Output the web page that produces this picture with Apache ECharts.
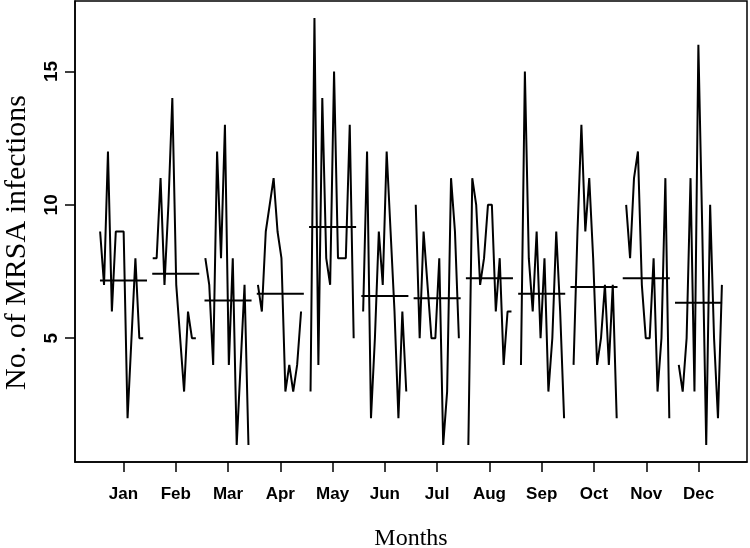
<!DOCTYPE html>
<html>
<head>
<meta charset="utf-8">
<script src="https://cdn.jsdelivr.net/npm/echarts@6/dist/echarts.min.js"></script>
<style>
  html, body { margin: 0; padding: 0; background: #fff; }
  #chart { width: 750px; height: 548px; }
</style>
</head>
<body>
<div id="chart"></div>
<script>
  // month labels and tick values
  var monthNames = ['Jan', 'Feb', 'Mar', 'Apr', 'May', 'Jun', 'Jul', 'Aug', 'Sep', 'Oct', 'Nov', 'Dec'];
  var monthTicks = [1, 2, 3, 4, 5, 6, 7, 8, 9, 10, 11, 12];
  var yTicks = [5, 10, 15];

  // infections per year, one array per month
  var jan = [9, 7, 12, 6, 9, 9, 9, 2, 5, 8, 5, 5];
  var feb = [8, 8, 11, 7, 10, 14, 7, 5, 3, 6, 5, 5];
  var mar = [8, 7, 4, 12, 8, 13, 4, 8, 1, 4, 7, 1];
  var apr = [7, 6, 9, 10, 11, 9, 8, 3, 4, 3, 4, 6];
  var may = [3, 17, 4, 14, 8, 7, 15, 8, 8, 8, 13, 5];
  var jun = [6, 12, 2, 5, 9, 7, 12, 9, 6, 2, 6, 3];
  var jul = [10, 5, 9, 7, 5, 5, 8, 1, 3, 11, 9, 5];
  var aug = [1, 11, 10, 7, 8, 10, 10, 6, 8, 4, 6, 6];
  var sep = [4, 15, 8, 6, 9, 5, 8, 3, 5, 9, 6, 2];
  var oct = [4, 9, 13, 9, 11, 8, 4, 5, 7, 4, 7, 2];
  var nov = [10, 8, 11, 12, 7, 5, 5, 8, 3, 5, 11, 2];
  var dec = [4, 3, 5, 11, 3, 16, 9, 1, 10, 5, 2, 7];

  var monthData = [jan, feb, mar, apr, may, jun, jul, aug, sep, oct, nov, dec];

  var lineStyle = { color: '#000', width: 2 };
  var nPer = monthNames.length;
  var nYears = jan.length;
  var total = nPer * nYears;
  var series = [];

  // monthplot layout: each month's years spread over +-0.45 around the month
  monthData.forEach(function (vals, k) {
    var i = k + 1;
    var pts = vals.map(function (v, j) {
      var t = j * nPer + i;
      return [i + 0.9 * (t - (total + 1) / 2) / total, v];
    });
    series.push({
      type: 'line', data: pts, symbol: 'none', lineStyle: lineStyle,
      silent: true, animation: false
    });
    var mean = vals.reduce(function (a, b) { return a + b; }, 0) / vals.length;
    series.push({
      type: 'line', data: [[i - 0.45, mean], [i + 0.45, mean]], symbol: 'none',
      lineStyle: lineStyle, silent: true, animation: false
    });
  });

  var myChart = echarts.init(document.getElementById('chart'));
  myChart.setOption({
    backgroundColor: '#fff',
    animation: false,
    grid: {
      left: 75, right: 3, top: 1, bottom: 86,
      containLabel: false, outerBoundsMode: 'none',
      show: true, borderColor: '#000', borderWidth: 1.5, backgroundColor: 'transparent'
    },
    xAxis: {
      type: 'value', min: 0.0727, max: 12.927,
      axisLine: { show: true, lineStyle: { color: '#000', width: 1.5 } },
      splitLine: { show: false },
      axisTick: { show: true, customValues: monthTicks, length: 10, lineStyle: { color: '#000', width: 1.5 } },
      axisLabel: {
        customValues: monthTicks, margin: 24, color: '#000',
        fontFamily: 'Liberation Sans', fontSize: 17, fontWeight: 'bold',
        formatter: function (v) { return monthNames[Math.round(v) - 1]; }
      },
      name: 'Months', nameLocation: 'middle', nameGap: 65,
      nameTextStyle: { fontFamily: 'Liberation Serif', fontSize: 24, color: '#000' }
    },
    yAxis: {
      type: 'value', min: 0.36, max: 17.64,
      axisLine: { show: true, lineStyle: { color: '#000', width: 1.5 } },
      splitLine: { show: false },
      axisTick: { show: true, customValues: yTicks, length: 10, lineStyle: { color: '#000', width: 1.5 } },
      axisLabel: {
        customValues: yTicks, rotate: 90, margin: 14, color: '#000',
        fontFamily: 'Liberation Sans', fontSize: 19, fontWeight: 'bold'
      },
      name: 'No. of MRSA infections', nameLocation: 'middle', nameGap: 43, nameRotate: 90,
      nameTextStyle: { fontFamily: 'Liberation Serif', fontSize: 30, color: '#000', padding: [0, 22, 0, 0] }
    },
    series: series
  });
  window.addEventListener('resize', function () { myChart.resize(); });
</script>
</body>
</html>
